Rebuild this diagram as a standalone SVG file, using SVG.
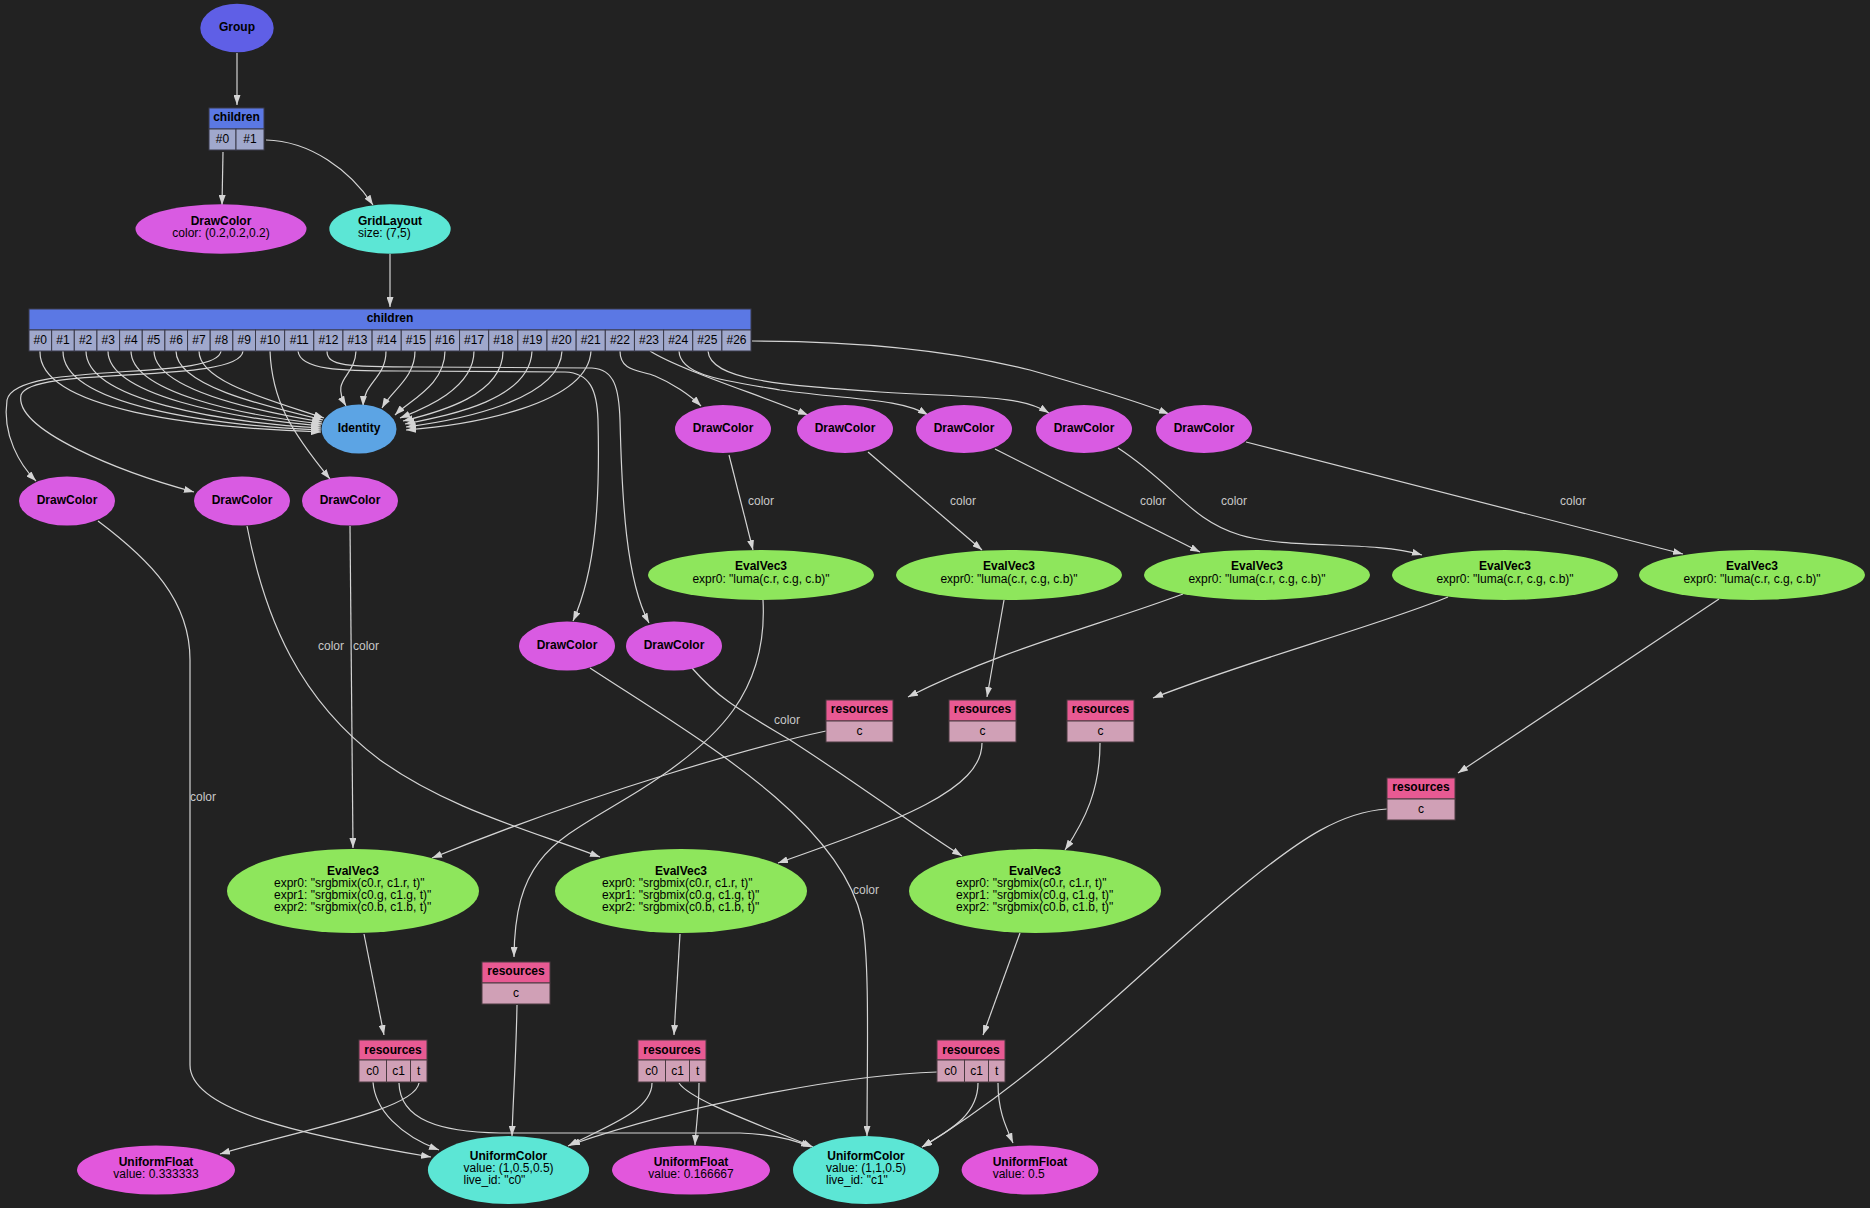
<svg xmlns="http://www.w3.org/2000/svg" width="1870" height="1208" viewBox="0 0 1870 1208">
<defs>
<marker id="a" viewBox="0 0 10 7" refX="10" refY="3.5" markerWidth="10" markerHeight="7" orient="auto" markerUnits="userSpaceOnUse"><path d="M0,0 L10,3.5 L0,7 z" fill="#d4d4d4"/></marker>
<style>
.e{fill:none;stroke:#d4d4d4;stroke-width:1.2;marker-end:url(#a)}
text{font-family:"Liberation Sans",Arial,sans-serif;font-size:12px;fill:#000}
.b{font-weight:bold}
.m{text-anchor:middle}
.lb{fill:#c8c8c8;text-anchor:middle}
.dc{fill:#d95be2}
.uf{fill:#e257dc}
.uc{fill:#5ce6d5}
.ev{fill:#8ee65c}
.hb{fill:#5b78e4;stroke:#3a3a4a}
.cb{fill:#a0a8cc;stroke:#3a3a4a}
.hr{fill:#e85a93;stroke:#4a3a40}
.cr{fill:#d0a0b6;stroke:#4a3a40}
</style>
</defs>
<rect width="1870" height="1208" fill="#222222"/>

<g id="edges">
<path class="e" d="M237,53 L237,105"/>
<path class="e" d="M223,152 L222,205"/>
<path class="e" d="M266,140 C310,141 350,170 373,205"/>
<path class="e" d="M390,254 L390,307"/>
<path class="e" d="M40,351 C38,410 200,428 321,432"/>
<path class="e" d="M63,351 C62,405 210,425 321,430"/>
<path class="e" d="M86,351 C86,400 220,422 321,428"/>
<path class="e" d="M108,351 C108,395 230,418 321,426"/>
<path class="e" d="M131,351 C131,392 240,415 322,424"/>
<path class="e" d="M154,351 C154,388 250,410 322,422"/>
<path class="e" d="M176,351 C176,385 260,405 323,420"/>
<path class="e" d="M199,351 C199,382 270,400 324,418"/>
<path class="e" d="M221,351 C218,382 15,360 7,400 C2,435 20,465 36,481"/>
<path class="e" d="M243,351 C240,385 30,365 21,395 C14,430 120,472 194,492"/>
<path class="e" d="M270,351 C272,400 290,430 330,479"/>
<path class="e" d="M298,351 C300,370 340,371 400,371 L565,372 C590,373 597,390 598,420 C600,500 596,570 573,621"/>
<path class="e" d="M327,351 C327,366 345,367 420,367 L592,368 C615,369 619,390 620,420 C622,500 626,580 649,623"/>
<path class="e" d="M356,351 C355,378 330,378 346,406"/>
<path class="e" d="M386,351 C386,378 364,382 363,406"/>
<path class="e" d="M415,351 C415,378 392,390 382,408"/>
<path class="e" d="M445,351 C445,385 410,400 395,415"/>
<path class="e" d="M474,351 C474,390 420,410 400,418"/>
<path class="e" d="M503,351 C503,395 440,412 403,421"/>
<path class="e" d="M532,351 C530,400 450,415 405,424"/>
<path class="e" d="M562,351 C560,400 460,420 406,427"/>
<path class="e" d="M591,351 C588,405 470,425 406,430"/>
<path class="e" d="M620,351 C620,372 640,370 655,376 C672,383 690,395 701,406"/>
<path class="e" d="M650,351 C680,370 760,395 808,415"/>
<path class="e" d="M679,351 C680,375 720,380 780,390 C850,400 900,398 928,415"/>
<path class="e" d="M708,351 C710,380 780,385 880,392 C980,398 1020,395 1049,413"/>
<path class="e" d="M752,341 C860,341 950,350 1030,370 C1100,390 1140,402 1169,414"/>
<path class="e" d="M729,455 L753,550"/>
<path class="e" d="M868,452 L982,550"/>
<path class="e" d="M995,449 L1200,552"/>
<path class="e" d="M1118,448 C1175,485 1190,520 1240,535 C1290,550 1370,540 1422,555"/>
<path class="e" d="M1246,442 L1683,554"/>
<path class="e" d="M763,600 C768,690 720,740 640,790 C560,840 515,850 514,957"/>
<path class="e" d="M1004,600 L987,697"/>
<path class="e" d="M1183,594 C1100,625 1000,650 908,697"/>
<path class="e" d="M1448,597 C1380,625 1250,660 1153,698"/>
<path class="e" d="M1719,599 L1458,773"/>
<path class="e" d="M826,731 C760,745 600,790 432,858"/>
<path class="e" d="M982,743 C982,790 900,820 778,863"/>
<path class="e" d="M1100,743 C1100,790 1085,820 1065,850"/>
<path class="e" d="M1387,809 C1340,812 1300,840 1250,880 C1150,960 1050,1070 922,1147"/>
<path class="e" d="M517,1005 C516,1060 513,1100 512,1136"/>
<path class="e" d="M98,521 C150,560 190,600 190,660 L190,1065 C190,1110 300,1135 431,1157"/>
<path class="e" d="M247,526 C265,620 300,700 380,760 C450,810 530,830 600,857"/>
<path class="e" d="M350,526 L353,848"/>
<path class="e" d="M590,668 C700,740 840,820 862,920 C870,960 867,1060 867,1136"/>
<path class="e" d="M692,668 C720,700 740,710 790,740 C860,785 920,830 962,856"/>
<path class="e" d="M364,934 L384,1035"/>
<path class="e" d="M680,934 L674,1035"/>
<path class="e" d="M1020,933 L983,1035"/>
<path class="e" d="M373,1082 C375,1110 400,1135 439,1150"/>
<path class="e" d="M399,1083 C400,1120 440,1132 500,1133 L740,1133 C770,1134 795,1140 811,1147"/>
<path class="e" d="M419,1083 C415,1110 300,1130 220,1154"/>
<path class="e" d="M652,1083 C652,1110 610,1125 568,1146"/>
<path class="e" d="M679,1083 C690,1100 760,1125 813,1147"/>
<path class="e" d="M699,1083 C699,1110 696,1125 695,1145"/>
<path class="e" d="M937,1072 C860,1074 700,1100 570,1145"/>
<path class="e" d="M978,1083 C978,1115 950,1130 922,1147"/>
<path class="e" d="M998,1083 C998,1110 1005,1125 1013,1143"/>
<text class="lb" x="761" y="505">color</text>
<text class="lb" x="963" y="505">color</text>
<text class="lb" x="1153" y="505">color</text>
<text class="lb" x="1234" y="505">color</text>
<text class="lb" x="1573" y="505">color</text>
<text class="lb" x="203" y="801">color</text>
<text class="lb" x="331" y="650">color</text>
<text class="lb" x="366" y="650">color</text>
<text class="lb" x="866" y="894">color</text>
<text class="lb" x="787" y="724">color</text>
</g>

<g id="group"><ellipse cx="237" cy="28" rx="36.7" ry="24.3" fill="#5f5fe6"/><text class="b m" x="237" y="31">Group</text></g>

<g id="children1">
<rect class="hb" x="209" y="108" width="55" height="21"/><text class="b m" x="236.5" y="121">children</text>
<rect class="cb" x="209" y="129" width="27" height="21"/><text class="m" x="222.5" y="143">#0</text>
<rect class="cb" x="236" y="129" width="28" height="21"/><text class="m" x="250" y="143">#1</text>
</g>

<g id="drawcolor0"><ellipse class="dc" cx="221" cy="229" rx="85.5" ry="24.7"/><text class="b m" x="221" y="225">DrawColor</text><text class="m" x="221" y="237">color: (0.2,0.2,0.2)</text></g>
<g id="gridlayout"><ellipse class="uc" cx="390" cy="229" rx="60.7" ry="24.7"/><text class="b m" x="390" y="225">GridLayout</text><text x="358" y="237">size: (7,5)</text></g>

<g id="children2">
<rect class="hb" x="29" y="309" width="722" height="21"/><text class="b m" x="390" y="322">children</text>
<rect class="cb" x="29" y="330" width="22.65" height="21"/><text class="m" x="40.3" y="344">#0</text>
<rect class="cb" x="51.65" y="330" width="22.65" height="21"/><text class="m" x="63" y="344">#1</text>
<rect class="cb" x="74.3" y="330" width="22.65" height="21"/><text class="m" x="85.6" y="344">#2</text>
<rect class="cb" x="96.95" y="330" width="22.65" height="21"/><text class="m" x="108.3" y="344">#3</text>
<rect class="cb" x="119.6" y="330" width="22.65" height="21"/><text class="m" x="130.9" y="344">#4</text>
<rect class="cb" x="142.25" y="330" width="22.65" height="21"/><text class="m" x="153.6" y="344">#5</text>
<rect class="cb" x="164.9" y="330" width="22.65" height="21"/><text class="m" x="176.2" y="344">#6</text>
<rect class="cb" x="187.55" y="330" width="22.65" height="21"/><text class="m" x="198.9" y="344">#7</text>
<rect class="cb" x="210.2" y="330" width="22.65" height="21"/><text class="m" x="221.5" y="344">#8</text>
<rect class="cb" x="232.85" y="330" width="22.65" height="21"/><text class="m" x="244.2" y="344">#9</text>
<rect class="cb" x="255.5" y="330" width="29.15" height="21"/><text class="m" x="270.1" y="344">#10</text>
<rect class="cb" x="284.65" y="330" width="29.15" height="21"/><text class="m" x="299.2" y="344">#11</text>
<rect class="cb" x="313.8" y="330" width="29.15" height="21"/><text class="m" x="328.4" y="344">#12</text>
<rect class="cb" x="342.95" y="330" width="29.15" height="21"/><text class="m" x="357.5" y="344">#13</text>
<rect class="cb" x="372.1" y="330" width="29.15" height="21"/><text class="m" x="386.7" y="344">#14</text>
<rect class="cb" x="401.25" y="330" width="29.15" height="21"/><text class="m" x="415.8" y="344">#15</text>
<rect class="cb" x="430.4" y="330" width="29.15" height="21"/><text class="m" x="445" y="344">#16</text>
<rect class="cb" x="459.55" y="330" width="29.15" height="21"/><text class="m" x="474.1" y="344">#17</text>
<rect class="cb" x="488.7" y="330" width="29.15" height="21"/><text class="m" x="503.3" y="344">#18</text>
<rect class="cb" x="517.85" y="330" width="29.15" height="21"/><text class="m" x="532.4" y="344">#19</text>
<rect class="cb" x="547" y="330" width="29.15" height="21"/><text class="m" x="561.6" y="344">#20</text>
<rect class="cb" x="576.15" y="330" width="29.15" height="21"/><text class="m" x="590.7" y="344">#21</text>
<rect class="cb" x="605.3" y="330" width="29.15" height="21"/><text class="m" x="619.9" y="344">#22</text>
<rect class="cb" x="634.45" y="330" width="29.15" height="21"/><text class="m" x="649" y="344">#23</text>
<rect class="cb" x="663.6" y="330" width="29.15" height="21"/><text class="m" x="678.2" y="344">#24</text>
<rect class="cb" x="692.75" y="330" width="29.15" height="21"/><text class="m" x="707.3" y="344">#25</text>
<rect class="cb" x="721.9" y="330" width="29.1" height="21"/><text class="m" x="736.5" y="344">#26</text>
</g>

<g id="identity"><ellipse cx="359" cy="429" rx="37.5" ry="24.5" fill="#5ca4e4"/><text class="b m" x="359" y="432">Identity</text></g>

<g id="dc_r1"><ellipse class="dc" cx="723" cy="429" rx="48" ry="24"/><text class="b m" x="723" y="432">DrawColor</text></g>
<g id="dc_r2"><ellipse class="dc" cx="845" cy="429" rx="48" ry="24"/><text class="b m" x="845" y="432">DrawColor</text></g>
<g id="dc_r3"><ellipse class="dc" cx="964" cy="429" rx="48" ry="24"/><text class="b m" x="964" y="432">DrawColor</text></g>
<g id="dc_r4"><ellipse class="dc" cx="1084" cy="429" rx="48" ry="24"/><text class="b m" x="1084" y="432">DrawColor</text></g>
<g id="dc_r5"><ellipse class="dc" cx="1204" cy="429" rx="48" ry="24"/><text class="b m" x="1204" y="432">DrawColor</text></g>

<g id="dc_a"><ellipse class="dc" cx="67" cy="501" rx="48" ry="24.5"/><text class="b m" x="67" y="504">DrawColor</text></g>
<g id="dc_b"><ellipse class="dc" cx="242" cy="501" rx="48" ry="24.5"/><text class="b m" x="242" y="504">DrawColor</text></g>
<g id="dc_c"><ellipse class="dc" cx="350" cy="501" rx="48" ry="24.5"/><text class="b m" x="350" y="504">DrawColor</text></g>
<g id="dc_d"><ellipse class="dc" cx="567" cy="646" rx="48" ry="24.5"/><text class="b m" x="567" y="649">DrawColor</text></g>
<g id="dc_e"><ellipse class="dc" cx="674" cy="646" rx="48" ry="24.5"/><text class="b m" x="674" y="649">DrawColor</text></g>

<g id="luma1"><ellipse class="ev" cx="761" cy="575" rx="113" ry="25"/><text class="b m" x="761" y="570">EvalVec3</text><text class="m" x="761" y="583">expr0: "luma(c.r, c.g, c.b)"</text></g>
<g id="luma2"><ellipse class="ev" cx="1009" cy="575" rx="113" ry="25"/><text class="b m" x="1009" y="570">EvalVec3</text><text class="m" x="1009" y="583">expr0: "luma(c.r, c.g, c.b)"</text></g>
<g id="luma3"><ellipse class="ev" cx="1257" cy="575" rx="113" ry="25"/><text class="b m" x="1257" y="570">EvalVec3</text><text class="m" x="1257" y="583">expr0: "luma(c.r, c.g, c.b)"</text></g>
<g id="luma4"><ellipse class="ev" cx="1505" cy="575" rx="113" ry="25"/><text class="b m" x="1505" y="570">EvalVec3</text><text class="m" x="1505" y="583">expr0: "luma(c.r, c.g, c.b)"</text></g>
<g id="luma5"><ellipse class="ev" cx="1752" cy="575" rx="113" ry="25"/><text class="b m" x="1752" y="570">EvalVec3</text><text class="m" x="1752" y="583">expr0: "luma(c.r, c.g, c.b)"</text></g>

<g id="res1"><rect class="hr" x="826" y="700" width="67" height="21"/><text class="b m" x="859.5" y="713">resources</text><rect class="cr" x="826" y="721" width="67" height="21"/><text class="m" x="859.5" y="735">c</text></g>
<g id="res2"><rect class="hr" x="949" y="700" width="67" height="21"/><text class="b m" x="982.5" y="713">resources</text><rect class="cr" x="949" y="721" width="67" height="21"/><text class="m" x="982.5" y="735">c</text></g>
<g id="res3"><rect class="hr" x="1067" y="700" width="67" height="21"/><text class="b m" x="1100.5" y="713">resources</text><rect class="cr" x="1067" y="721" width="67" height="21"/><text class="m" x="1100.5" y="735">c</text></g>
<g id="res4"><rect class="hr" x="1387" y="778" width="68" height="21"/><text class="b m" x="1421" y="791">resources</text><rect class="cr" x="1387" y="799" width="68" height="21"/><text class="m" x="1421" y="813">c</text></g>
<g id="res5"><rect class="hr" x="482" y="962" width="68" height="21"/><text class="b m" x="516" y="975">resources</text><rect class="cr" x="482" y="983" width="68" height="21"/><text class="m" x="516" y="997">c</text></g>

<g id="mix1"><ellipse class="ev" cx="353" cy="891" rx="126" ry="42"/><text class="b m" x="353" y="875">EvalVec3</text><text x="274" y="887">expr0: "srgbmix(c0.r, c1.r, t)"</text><text x="274" y="899">expr1: "srgbmix(c0.g, c1.g, t)"</text><text x="274" y="911">expr2: "srgbmix(c0.b, c1.b, t)"</text></g>
<g id="mix2"><ellipse class="ev" cx="681" cy="891" rx="126" ry="42"/><text class="b m" x="681" y="875">EvalVec3</text><text x="602" y="887">expr0: "srgbmix(c0.r, c1.r, t)"</text><text x="602" y="899">expr1: "srgbmix(c0.g, c1.g, t)"</text><text x="602" y="911">expr2: "srgbmix(c0.b, c1.b, t)"</text></g>
<g id="mix3"><ellipse class="ev" cx="1035" cy="891" rx="126" ry="42"/><text class="b m" x="1035" y="875">EvalVec3</text><text x="956" y="887">expr0: "srgbmix(c0.r, c1.r, t)"</text><text x="956" y="899">expr1: "srgbmix(c0.g, c1.g, t)"</text><text x="956" y="911">expr2: "srgbmix(c0.b, c1.b, t)"</text></g>

<g id="res6"><rect class="hr" x="359" y="1040" width="68" height="20"/><text class="b m" x="393" y="1054">resources</text>
<rect class="cr" x="359" y="1060" width="27.5" height="22"/><text class="m" x="372.7" y="1075">c0</text>
<rect class="cr" x="386.5" y="1060" width="24" height="22"/><text class="m" x="398.5" y="1075">c1</text>
<rect class="cr" x="410.5" y="1060" width="16.5" height="22"/><text class="m" x="418.7" y="1075">t</text></g>
<g id="res7"><rect class="hr" x="638" y="1040" width="68" height="20"/><text class="b m" x="672" y="1054">resources</text>
<rect class="cr" x="638" y="1060" width="27.5" height="22"/><text class="m" x="651.7" y="1075">c0</text>
<rect class="cr" x="665.5" y="1060" width="24" height="22"/><text class="m" x="677.5" y="1075">c1</text>
<rect class="cr" x="689.5" y="1060" width="16.5" height="22"/><text class="m" x="697.7" y="1075">t</text></g>
<g id="res8"><rect class="hr" x="937" y="1040" width="68" height="20"/><text class="b m" x="971" y="1054">resources</text>
<rect class="cr" x="937" y="1060" width="27.5" height="22"/><text class="m" x="950.7" y="1075">c0</text>
<rect class="cr" x="964.5" y="1060" width="24" height="22"/><text class="m" x="976.5" y="1075">c1</text>
<rect class="cr" x="988.5" y="1060" width="16.5" height="22"/><text class="m" x="996.7" y="1075">t</text></g>

<g id="uf1"><ellipse class="uf" cx="156" cy="1170" rx="79" ry="24.5"/><text class="b m" x="156" y="1166">UniformFloat</text><text class="m" x="156" y="1178">value: 0.333333</text></g>
<g id="uc1"><ellipse class="uc" cx="508.5" cy="1170" rx="80.6" ry="34"/><text class="b m" x="508.5" y="1160">UniformColor</text><text x="463.5" y="1172">value: (1,0.5,0.5)</text><text x="463.5" y="1184">live_id: "c0"</text></g>
<g id="uf2"><ellipse class="uf" cx="691" cy="1170" rx="79" ry="24.5"/><text class="b m" x="691" y="1166">UniformFloat</text><text class="m" x="691" y="1178">value: 0.166667</text></g>
<g id="uc2"><ellipse class="uc" cx="866" cy="1170" rx="73" ry="34"/><text class="b m" x="866" y="1160">UniformColor</text><text x="826" y="1172">value: (1,1,0.5)</text><text x="826" y="1184">live_id: "c1"</text></g>
<g id="uf3"><ellipse class="uf" cx="1030" cy="1170" rx="68.4" ry="24.5"/><text class="b m" x="1030" y="1166">UniformFloat</text><text x="992.7" y="1178">value: 0.5</text></g>
</svg>
